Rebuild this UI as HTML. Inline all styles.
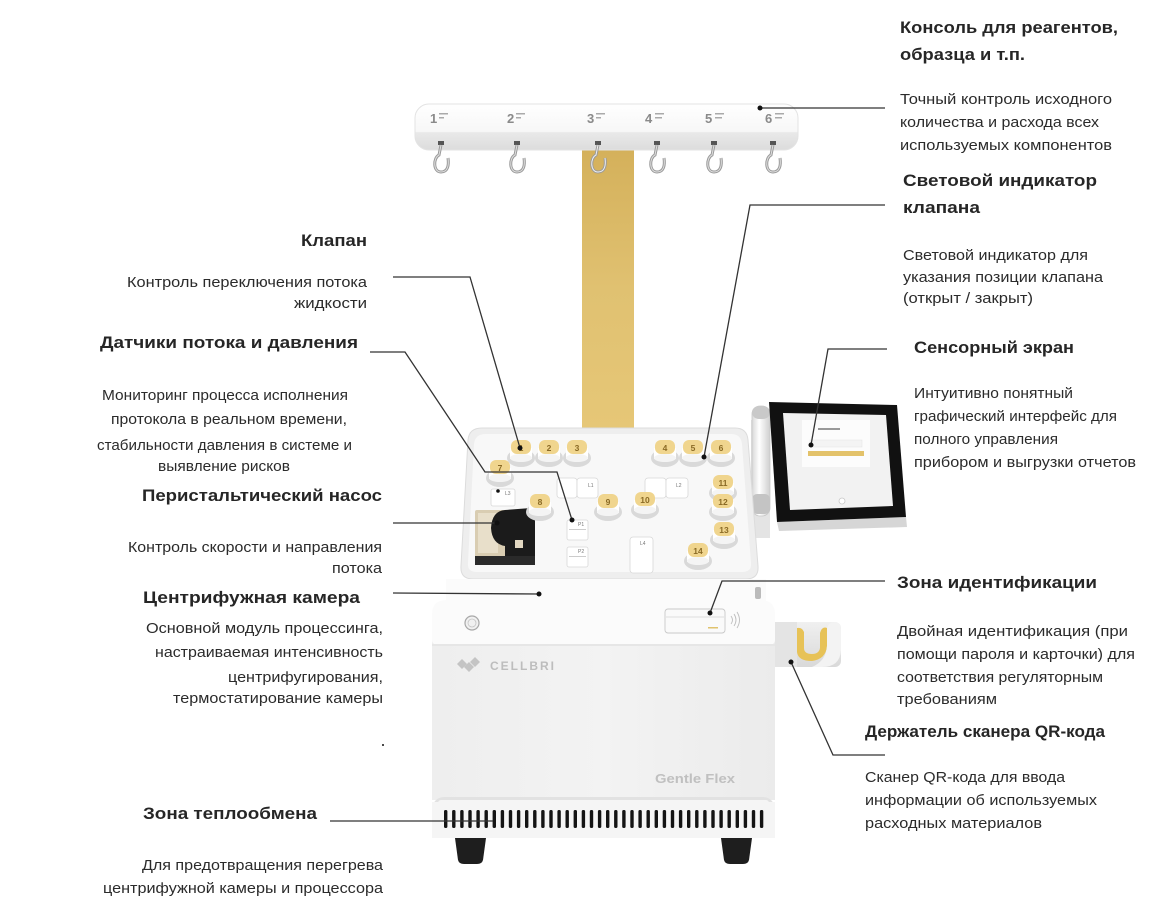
<!DOCTYPE html>
<html><head><meta charset="utf-8">
<style>
html,body{margin:0;padding:0;background:#fff;}
svg{display:block;}
.b{font-family:"Liberation Sans",sans-serif;font-weight:bold;font-size:17px;fill:#262626;}
.r{font-family:"Liberation Sans",sans-serif;font-size:14.5px;fill:#2b2b2b;}
.ln{fill:none;stroke:#333;stroke-width:1.3;}
.vn{font-family:"Liberation Sans",sans-serif;font-weight:bold;font-size:8.5px;fill:#8a6a25;text-anchor:middle;}
.lb{font-family:"Liberation Sans",sans-serif;font-size:5px;fill:#777;}
</style></head><body>
<svg width="1166" height="922" viewBox="0 0 1166 922" xmlns="http://www.w3.org/2000/svg">
<defs>
<linearGradient id="gold" x1="0" y1="0" x2="0" y2="1"><stop offset="0" stop-color="#d4b05a"/><stop offset="0.5" stop-color="#e0c171"/><stop offset="1" stop-color="#e6c777"/></linearGradient>
<linearGradient id="bar" x1="0" y1="0" x2="0" y2="1"><stop offset="0" stop-color="#ffffff"/><stop offset="0.6" stop-color="#f7f7f7"/><stop offset="0.62" stop-color="#e9e9e9"/><stop offset="1" stop-color="#dcdcdc"/></linearGradient>
<linearGradient id="cyl" x1="0" x2="1"><stop offset="0" stop-color="#d8d8d8"/><stop offset="0.4" stop-color="#ffffff"/><stop offset="1" stop-color="#cfcfcf"/></linearGradient>
<linearGradient id="body" x1="0" x2="1"><stop offset="0" stop-color="#eeeeee"/><stop offset="0.5" stop-color="#f3f3f3"/><stop offset="1" stop-color="#ebebeb"/></linearGradient>
<linearGradient id="qr" x1="0" y1="0" x2="0" y2="1"><stop offset="0" stop-color="#f0f0f0"/><stop offset="1" stop-color="#d9d9d9"/></linearGradient>
</defs>

<!-- Stalk -->
<rect x="582" y="146" width="52" height="284" fill="url(#gold)"/>

<!-- Console bar -->
<rect x="415" y="104" width="383" height="46" rx="14" fill="url(#bar)" stroke="#e3e3e3" stroke-width="1"/>
<g font-family="Liberation Sans, sans-serif" font-weight="bold" font-size="13" fill="#8a8a8a">
<text x="430" y="123">1</text><text x="507" y="123">2</text><text x="587" y="123">3</text>
<text x="645" y="123">4</text><text x="705" y="123">5</text><text x="765" y="123">6</text>
</g>
<g fill="#aaa">
<rect x="439" y="113" width="9" height="1.5"/><rect x="439" y="117" width="5" height="1.5"/>
<rect x="516" y="113" width="9" height="1.5"/><rect x="516" y="117" width="5" height="1.5"/>
<rect x="596" y="113" width="9" height="1.5"/><rect x="596" y="117" width="5" height="1.5"/>
<rect x="655" y="113" width="9" height="1.5"/><rect x="655" y="117" width="7" height="1.5"/>
<rect x="715" y="113" width="9" height="1.5"/><rect x="715" y="117" width="7" height="1.5"/>
<rect x="775" y="113" width="9" height="1.5"/><rect x="775" y="117" width="7" height="1.5"/>
</g>
<!-- Hooks -->
<g>
<g transform="translate(441,0)"><rect x="-3" y="141" width="6" height="4" fill="#555"/><path d="M0,145 L-2,155 C-8,158 -8,172 0,172 C7,172 8,165 7,158" fill="none" stroke="#9a9a9a" stroke-width="3"/><path d="M0,145 L-2,155 C-8,158 -8,172 0,172 C7,172 8,165 7,158" fill="none" stroke="#dedede" stroke-width="1"/></g>
<g transform="translate(517,0)"><rect x="-3" y="141" width="6" height="4" fill="#555"/><path d="M0,145 L-2,155 C-8,158 -8,172 0,172 C7,172 8,165 7,158" fill="none" stroke="#9a9a9a" stroke-width="3"/><path d="M0,145 L-2,155 C-8,158 -8,172 0,172 C7,172 8,165 7,158" fill="none" stroke="#dedede" stroke-width="1"/></g>
<g transform="translate(598,0)"><rect x="-3" y="141" width="6" height="4" fill="#555"/><path d="M0,145 L-2,155 C-8,158 -8,172 0,172 C7,172 8,165 7,158" fill="none" stroke="#9a9a9a" stroke-width="3"/><path d="M0,145 L-2,155 C-8,158 -8,172 0,172 C7,172 8,165 7,158" fill="none" stroke="#f0f0f0" stroke-width="1"/></g>
<g transform="translate(657,0)"><rect x="-3" y="141" width="6" height="4" fill="#555"/><path d="M0,145 L-2,155 C-8,158 -8,172 0,172 C7,172 8,165 7,158" fill="none" stroke="#9a9a9a" stroke-width="3"/><path d="M0,145 L-2,155 C-8,158 -8,172 0,172 C7,172 8,165 7,158" fill="none" stroke="#dedede" stroke-width="1"/></g>
<g transform="translate(714,0)"><rect x="-3" y="141" width="6" height="4" fill="#555"/><path d="M0,145 L-2,155 C-8,158 -8,172 0,172 C7,172 8,165 7,158" fill="none" stroke="#9a9a9a" stroke-width="3"/><path d="M0,145 L-2,155 C-8,158 -8,172 0,172 C7,172 8,165 7,158" fill="none" stroke="#dedede" stroke-width="1"/></g>
<g transform="translate(773,0)"><rect x="-3" y="141" width="6" height="4" fill="#555"/><path d="M0,145 L-2,155 C-8,158 -8,172 0,172 C7,172 8,165 7,158" fill="none" stroke="#9a9a9a" stroke-width="3"/><path d="M0,145 L-2,155 C-8,158 -8,172 0,172 C7,172 8,165 7,158" fill="none" stroke="#dedede" stroke-width="1"/></g>
</g>

<!-- Screen stand cylinder -->
<rect x="751" y="420" width="19" height="118" fill="#e4e4e4"/>
<rect x="752" y="406" width="18" height="110" rx="8" fill="url(#cyl)" stroke="#c8c8c8" stroke-width="0.8"/>
<rect x="752" y="406" width="18" height="13" rx="7" fill="#c9c9c9"/>
<rect x="752" y="494" width="18" height="20" rx="5" fill="#c4c4c4"/>

<!-- Tablet -->
<polygon points="777,522 906,517 907,527 779,531" fill="#d6d6d6"/>
<polygon points="769,402 897,405 906,517 777,522" fill="#111"/>
<polygon points="783,413 886,415 893,506 790,510" fill="#f2f2f2"/>
<rect x="802" y="420" width="68" height="47" fill="#fcfcfc"/>
<rect x="818" y="428" width="22" height="2" fill="#999"/>
<rect x="810" y="440" width="52" height="7" fill="#f4f4f4" stroke="#e2e2e2" stroke-width="0.5"/>
<rect x="808" y="451" width="56" height="5" fill="#e3c26a"/>
<circle cx="842" cy="501" r="3" fill="#fff" stroke="#c8c8c8" stroke-width="0.8"/>

<!-- Tray -->
<path d="M482,428 L735,428 Q747,428 748,440 L758,566 Q759,579 746,579 L473,579 Q460,579 461,566 L468,440 Q469,428 482,428 Z" fill="#eeeeee" stroke="#dcdcdc" stroke-width="1"/>
<path d="M486,434 L731,434 Q741,434 742,444 L751,563 Q752,572 742,572 L477,572 Q467,572 468,563 L474,444 Q475,434 486,434 Z" fill="#f8f8f8"/>

<!-- L blocks -->
<g fill="#ffffff" stroke="#d8d8d8" stroke-width="0.8">
<rect x="557" y="478" width="20" height="20" rx="3"/><rect x="577" y="478" width="21" height="20" rx="3"/>
<rect x="645" y="478" width="21" height="20" rx="3"/><rect x="666" y="478" width="22" height="20" rx="3"/>
<rect x="491" y="489" width="24" height="17" rx="2"/>
<rect x="630" y="537" width="23" height="36" rx="3"/>
<rect x="567" y="520" width="21" height="20" rx="2"/>
<rect x="567" y="547" width="21" height="20" rx="2"/>
</g>
<g class="lb"><text x="588" y="487">L1</text><text x="676" y="487">L2</text><text x="505" y="495">L3</text><text x="640" y="545">L4</text><text x="578" y="526">P1</text><text x="578" y="553">P2</text></g>
<g fill="#ccc"><rect x="569" y="529" width="17" height="1"/><rect x="569" y="556" width="17" height="1"/></g>

<!-- Pump -->
<rect x="475" y="510" width="60" height="55" rx="2" fill="#d9cdb2"/>
<rect x="478" y="513" width="20" height="40" fill="#e8dfca"/>
<rect x="475" y="556" width="60" height="9" fill="#2a2a2a"/>
<path d="M505,510 L531,508 Q535,508 535,512 L535,556 L505,556 L505,546 Q492,544 491,528 Q492,511 505,510 Z" fill="#1b1b1b"/>
<rect x="515" y="540" width="8" height="8" fill="#e2d8c2"/>

<!-- Valves -->
<g id="valves">
</g>
<g>
<!-- generic valve: base ellipse, body, cap -->
<g transform="translate(521,448)"><ellipse cx="0" cy="10" rx="14" ry="9" fill="#d9d9d9"/><rect x="-11" y="0" width="22" height="11" fill="#fff"/><ellipse cx="0" cy="10" rx="11" ry="4" fill="#f4f4f4"/><rect x="-10" y="-8" width="20" height="14" rx="6" fill="#f0d58e"/><text class="vn" y="3">1</text></g>
<g transform="translate(549,448)"><ellipse cx="0" cy="10" rx="14" ry="9" fill="#d9d9d9"/><rect x="-11" y="0" width="22" height="11" fill="#fff"/><ellipse cx="0" cy="10" rx="11" ry="4" fill="#f4f4f4"/><rect x="-10" y="-8" width="20" height="14" rx="6" fill="#f0d58e"/><text class="vn" y="3">2</text></g>
<g transform="translate(577,448)"><ellipse cx="0" cy="10" rx="14" ry="9" fill="#d9d9d9"/><rect x="-11" y="0" width="22" height="11" fill="#fff"/><ellipse cx="0" cy="10" rx="11" ry="4" fill="#f4f4f4"/><rect x="-10" y="-8" width="20" height="14" rx="6" fill="#f0d58e"/><text class="vn" y="3">3</text></g>
<g transform="translate(665,448)"><ellipse cx="0" cy="10" rx="14" ry="9" fill="#d9d9d9"/><rect x="-11" y="0" width="22" height="11" fill="#fff"/><ellipse cx="0" cy="10" rx="11" ry="4" fill="#f4f4f4"/><rect x="-10" y="-8" width="20" height="14" rx="6" fill="#f0d58e"/><text class="vn" y="3">4</text></g>
<g transform="translate(693,448)"><ellipse cx="0" cy="10" rx="14" ry="9" fill="#d9d9d9"/><rect x="-11" y="0" width="22" height="11" fill="#fff"/><ellipse cx="0" cy="10" rx="11" ry="4" fill="#f4f4f4"/><rect x="-10" y="-8" width="20" height="14" rx="6" fill="#f0d58e"/><text class="vn" y="3">5</text></g>
<g transform="translate(721,448)"><ellipse cx="0" cy="10" rx="14" ry="9" fill="#d9d9d9"/><rect x="-11" y="0" width="22" height="11" fill="#fff"/><ellipse cx="0" cy="10" rx="11" ry="4" fill="#f4f4f4"/><rect x="-10" y="-8" width="20" height="14" rx="6" fill="#f0d58e"/><text class="vn" y="3">6</text></g>
<g transform="translate(500,468)"><ellipse cx="0" cy="10" rx="14" ry="9" fill="#d9d9d9"/><rect x="-11" y="0" width="22" height="11" fill="#fff"/><ellipse cx="0" cy="10" rx="11" ry="4" fill="#f4f4f4"/><rect x="-10" y="-8" width="20" height="14" rx="6" fill="#f0d58e"/><text class="vn" y="3">7</text></g>
<g transform="translate(540,502)"><ellipse cx="0" cy="10" rx="14" ry="9" fill="#d9d9d9"/><rect x="-11" y="0" width="22" height="11" fill="#fff"/><ellipse cx="0" cy="10" rx="11" ry="4" fill="#f4f4f4"/><rect x="-10" y="-8" width="20" height="14" rx="6" fill="#f0d58e"/><text class="vn" y="3">8</text></g>
<g transform="translate(608,502)"><ellipse cx="0" cy="10" rx="14" ry="9" fill="#d9d9d9"/><rect x="-11" y="0" width="22" height="11" fill="#fff"/><ellipse cx="0" cy="10" rx="11" ry="4" fill="#f4f4f4"/><rect x="-10" y="-8" width="20" height="14" rx="6" fill="#f0d58e"/><text class="vn" y="3">9</text></g>
<g transform="translate(645,500)"><ellipse cx="0" cy="10" rx="14" ry="9" fill="#d9d9d9"/><rect x="-11" y="0" width="22" height="11" fill="#fff"/><ellipse cx="0" cy="10" rx="11" ry="4" fill="#f4f4f4"/><rect x="-10" y="-8" width="20" height="14" rx="6" fill="#f0d58e"/><text class="vn" y="3">10</text></g>
<g transform="translate(723,483)"><ellipse cx="0" cy="10" rx="14" ry="9" fill="#d9d9d9"/><rect x="-11" y="0" width="22" height="11" fill="#fff"/><ellipse cx="0" cy="10" rx="11" ry="4" fill="#f4f4f4"/><rect x="-10" y="-8" width="20" height="14" rx="6" fill="#f0d58e"/><text class="vn" y="3">11</text></g>
<g transform="translate(723,502)"><ellipse cx="0" cy="10" rx="14" ry="9" fill="#d9d9d9"/><rect x="-11" y="0" width="22" height="11" fill="#fff"/><ellipse cx="0" cy="10" rx="11" ry="4" fill="#f4f4f4"/><rect x="-10" y="-8" width="20" height="14" rx="6" fill="#f0d58e"/><text class="vn" y="3">12</text></g>
<g transform="translate(724,530)"><ellipse cx="0" cy="10" rx="14" ry="9" fill="#d9d9d9"/><rect x="-11" y="0" width="22" height="11" fill="#fff"/><ellipse cx="0" cy="10" rx="11" ry="4" fill="#f4f4f4"/><rect x="-10" y="-8" width="20" height="14" rx="6" fill="#f0d58e"/><text class="vn" y="3">13</text></g>
<g transform="translate(698,551)"><ellipse cx="0" cy="10" rx="14" ry="9" fill="#d9d9d9"/><rect x="-11" y="0" width="22" height="11" fill="#fff"/><ellipse cx="0" cy="10" rx="11" ry="4" fill="#f4f4f4"/><rect x="-10" y="-8" width="20" height="14" rx="6" fill="#f0d58e"/><text class="vn" y="3">14</text></g>
</g>
<circle cx="498" cy="491" r="1.8" fill="#111"/>

<!-- Lid area under tray -->
<rect x="446" y="579" width="320" height="24" fill="#fbfbfb"/>
<rect x="755" y="587" width="6" height="12" rx="2" fill="#bbb"/>

<!-- Lower body -->
<rect x="432" y="640" width="343" height="160" fill="url(#body)"/>
<path d="M432,614 Q432,600 447,600 L760,600 Q775,600 775,614 L775,640 Q775,645 768,645 L439,645 Q432,645 432,640 Z" fill="#fbfbfb"/>
<rect x="432" y="644" width="343" height="2" fill="#e6e6e6"/>
<circle cx="472" cy="623" r="7" fill="#f1f1f1" stroke="#a8a8a8" stroke-width="1.2"/>
<circle cx="472" cy="623" r="4" fill="none" stroke="#c4c4c4" stroke-width="0.8"/>
<rect x="665" y="609" width="60" height="24" rx="3" fill="#fafafa" stroke="#c9c9c9" stroke-width="0.9"/>
<line x1="666" y1="617" x2="724" y2="617" stroke="#d5d5d5" stroke-width="0.8"/>
<rect x="708" y="627" width="10" height="1.5" fill="#e0c36e"/>
<path d="M731,616 Q734,620 731,624 M734,614 Q738,620 734,626 M737,612 Q742,620 737,628" fill="none" stroke="#bdbdbd" stroke-width="0.9"/>
<!-- Logo -->
<g fill="#c4c4c4"><polygon points="457,664 462,659 467,664 462,669"/><polygon points="464,667 469,662 474,667 469,672"/><polygon points="470,662 475,657 480,662 475,667"/></g>
<text x="490" y="670" font-family="Liberation Sans, sans-serif" font-weight="bold" font-size="12" fill="#bdbdbd" letter-spacing="2">CELLBRI</text>
<text x="655" y="783" font-family="Liberation Sans, sans-serif" font-weight="bold" font-size="13" fill="#c0c0c0" textLength="80" lengthAdjust="spacingAndGlyphs">Gentle Flex</text>
<!-- Vent section -->
<rect x="432" y="797" width="343" height="41" rx="12" fill="#e2e2e2"/>
<rect x="432" y="802" width="343" height="36" fill="#f5f5f5"/>
<rect x="438" y="800" width="331" height="6" rx="3" fill="#f5f5f5"/>
<g fill="#141414">
<rect x="444" y="810" width="3.4" height="18" rx="1.5"/><rect x="452.1" y="810" width="3.4" height="18" rx="1.5"/><rect x="460.2" y="810" width="3.4" height="18" rx="1.5"/><rect x="468.3" y="810" width="3.4" height="18" rx="1.5"/><rect x="476.4" y="810" width="3.4" height="18" rx="1.5"/><rect x="484.5" y="810" width="3.4" height="18" rx="1.5"/><rect x="492.6" y="810" width="3.4" height="18" rx="1.5"/><rect x="500.7" y="810" width="3.4" height="18" rx="1.5"/><rect x="508.8" y="810" width="3.4" height="18" rx="1.5"/><rect x="516.9" y="810" width="3.4" height="18" rx="1.5"/>
<rect x="525" y="810" width="3.4" height="18" rx="1.5"/><rect x="533.1" y="810" width="3.4" height="18" rx="1.5"/><rect x="541.2" y="810" width="3.4" height="18" rx="1.5"/><rect x="549.3" y="810" width="3.4" height="18" rx="1.5"/><rect x="557.4" y="810" width="3.4" height="18" rx="1.5"/><rect x="565.5" y="810" width="3.4" height="18" rx="1.5"/><rect x="573.6" y="810" width="3.4" height="18" rx="1.5"/><rect x="581.7" y="810" width="3.4" height="18" rx="1.5"/><rect x="589.8" y="810" width="3.4" height="18" rx="1.5"/><rect x="597.9" y="810" width="3.4" height="18" rx="1.5"/>
<rect x="606" y="810" width="3.4" height="18" rx="1.5"/><rect x="614.1" y="810" width="3.4" height="18" rx="1.5"/><rect x="622.2" y="810" width="3.4" height="18" rx="1.5"/><rect x="630.3" y="810" width="3.4" height="18" rx="1.5"/><rect x="638.4" y="810" width="3.4" height="18" rx="1.5"/><rect x="646.5" y="810" width="3.4" height="18" rx="1.5"/><rect x="654.6" y="810" width="3.4" height="18" rx="1.5"/><rect x="662.7" y="810" width="3.4" height="18" rx="1.5"/><rect x="670.8" y="810" width="3.4" height="18" rx="1.5"/><rect x="678.9" y="810" width="3.4" height="18" rx="1.5"/>
<rect x="687" y="810" width="3.4" height="18" rx="1.5"/><rect x="695.1" y="810" width="3.4" height="18" rx="1.5"/><rect x="703.2" y="810" width="3.4" height="18" rx="1.5"/><rect x="711.3" y="810" width="3.4" height="18" rx="1.5"/><rect x="719.4" y="810" width="3.4" height="18" rx="1.5"/><rect x="727.5" y="810" width="3.4" height="18" rx="1.5"/><rect x="735.6" y="810" width="3.4" height="18" rx="1.5"/><rect x="743.7" y="810" width="3.4" height="18" rx="1.5"/><rect x="751.8" y="810" width="3.4" height="18" rx="1.5"/><rect x="759.9" y="810" width="3.4" height="18" rx="1.5"/>
</g>
<!-- Feet -->
<path d="M455,838 L486,838 L483,860 Q482,864 477,864 L464,864 Q459,864 458,860 Z" fill="#1e1e1e"/>
<path d="M721,838 L752,838 L749,860 Q748,864 743,864 L730,864 Q725,864 724,860 Z" fill="#1e1e1e"/>

<!-- QR holder -->
<rect x="775" y="622" width="66" height="45" rx="6" fill="url(#qr)"/>
<rect x="775" y="622" width="22" height="45" fill="#e4e4e4"/>
<path d="M797,628 L797,652 Q798,661 812,661 Q826,659 827,646 L827,628 Q822,626 820,633 L820,648 Q819,654 812,654 Q804,654 804,648 L804,632 Q802,627 797,628 Z" fill="#e7c257"/>
<path d="M827,628 Q829,622 835,622 Q841,623 841,630 L841,650 Q840,667 822,667 L812,667 Q826,661 827,646 Z" fill="#f3f3f3"/>

<!-- Leader lines -->
<g class="ln">
<polyline points="760,108 885,108"/>
<polyline points="393,277 470,277 520,448"/>
<polyline points="370,352 405,352 485,472 557,472 572,520"/>
<polyline points="885,205 750,205 704,457"/>
<polyline points="887,349 828,349 811,445"/>
<polyline points="393,523 497,523"/>
<polyline points="393,593 539,594"/>
<polyline points="885,581 722,581 710,613"/>
<polyline points="885,755 833,755 791,662"/>
<polyline points="330,821 493,821"/>
</g>
<g fill="#111">
<circle cx="760" cy="108" r="2.5"/><circle cx="520" cy="448" r="2.5"/><circle cx="572" cy="520" r="2.5"/>
<circle cx="704" cy="457" r="2.5"/><circle cx="811" cy="445" r="2.5"/><circle cx="497" cy="523" r="2.5"/>
<circle cx="539" cy="594" r="2.5"/><circle cx="710" cy="613" r="2.5"/><circle cx="791" cy="662" r="2.5"/>
<circle cx="383" cy="745" r="1"/>
</g>

<!-- Right column text -->
<text class="b" x="900" y="33" textLength="218" lengthAdjust="spacingAndGlyphs">Консоль для реагентов,</text>
<text class="b" x="900" y="60" textLength="125" lengthAdjust="spacingAndGlyphs">образца и т.п.</text>
<text class="r" x="900" y="104" textLength="212" lengthAdjust="spacingAndGlyphs">Точный контроль исходного</text>
<text class="r" x="900" y="127" textLength="199" lengthAdjust="spacingAndGlyphs">количества и расхода всех</text>
<text class="r" x="900" y="150" textLength="212" lengthAdjust="spacingAndGlyphs">используемых компонентов</text>
<text class="b" x="903" y="186" textLength="194" lengthAdjust="spacingAndGlyphs">Световой индикатор</text>
<text class="b" x="903" y="213" textLength="77" lengthAdjust="spacingAndGlyphs">клапана</text>
<text class="r" x="903" y="260" textLength="185" lengthAdjust="spacingAndGlyphs">Световой индикатор для</text>
<text class="r" x="903" y="282" textLength="200" lengthAdjust="spacingAndGlyphs">указания позиции клапана</text>
<text class="r" x="903" y="303" textLength="130" lengthAdjust="spacingAndGlyphs">(открыт / закрыт)</text>

<text class="b" x="914" y="353" textLength="160" lengthAdjust="spacingAndGlyphs">Сенсорный экран</text>
<text class="r" x="914" y="398" textLength="159" lengthAdjust="spacingAndGlyphs">Интуитивно понятный</text>
<text class="r" x="914" y="421" textLength="203" lengthAdjust="spacingAndGlyphs">графический интерфейс для</text>
<text class="r" x="914" y="444" textLength="144" lengthAdjust="spacingAndGlyphs">полного управления</text>
<text class="r" x="914" y="467" textLength="222" lengthAdjust="spacingAndGlyphs">прибором и выгрузки отчетов</text>

<text class="b" x="897" y="588" textLength="200" lengthAdjust="spacingAndGlyphs">Зона идентификации</text>
<text class="r" x="897" y="636" textLength="231" lengthAdjust="spacingAndGlyphs">Двойная идентификация (при</text>
<text class="r" x="897" y="659" textLength="238" lengthAdjust="spacingAndGlyphs">помощи пароля и карточки) для</text>
<text class="r" x="897" y="682" textLength="206" lengthAdjust="spacingAndGlyphs">соответствия регуляторным</text>
<text class="r" x="897" y="704" textLength="100" lengthAdjust="spacingAndGlyphs">требованиям</text>
<text class="b" x="865" y="737" textLength="240" lengthAdjust="spacingAndGlyphs">Держатель сканера QR-кода</text>
<text class="r" x="865" y="782" textLength="200" lengthAdjust="spacingAndGlyphs">Сканер QR-кода для ввода</text>
<text class="r" x="865" y="805" textLength="232" lengthAdjust="spacingAndGlyphs">информации об используемых</text>
<text class="r" x="865" y="828" textLength="177" lengthAdjust="spacingAndGlyphs">расходных материалов</text>

<!-- Left column text -->
<text class="b" x="301" y="246" textLength="66" lengthAdjust="spacingAndGlyphs">Клапан</text>
<text class="r" x="127" y="287" textLength="240" lengthAdjust="spacingAndGlyphs">Контроль переключения потока</text>
<text class="r" x="294" y="308" textLength="73" lengthAdjust="spacingAndGlyphs">жидкости</text>
<text class="b" x="100" y="348" textLength="258" lengthAdjust="spacingAndGlyphs">Датчики потока и давления</text>
<text class="r" x="102" y="400" textLength="246" lengthAdjust="spacingAndGlyphs">Мониторинг процесса исполнения</text>
<text class="r" x="111" y="424" textLength="236" lengthAdjust="spacingAndGlyphs">протокола в реальном времени,</text>
<text class="r" x="97" y="450" textLength="255" lengthAdjust="spacingAndGlyphs">стабильности давления в системе и</text>
<text class="r" x="158" y="471" textLength="132" lengthAdjust="spacingAndGlyphs">выявление рисков</text>
<text class="b" x="142" y="501" textLength="240" lengthAdjust="spacingAndGlyphs">Перистальтический насос</text>
<text class="r" x="128" y="552" textLength="254" lengthAdjust="spacingAndGlyphs">Контроль скорости и направления</text>
<text class="r" x="332" y="573" textLength="50" lengthAdjust="spacingAndGlyphs">потока</text>
<text class="b" x="143" y="603" textLength="217" lengthAdjust="spacingAndGlyphs">Центрифужная камера</text>
<text class="r" x="146" y="633" textLength="237" lengthAdjust="spacingAndGlyphs">Основной модуль процессинга,</text>
<text class="r" x="155" y="657" textLength="228" lengthAdjust="spacingAndGlyphs">настраиваемая интенсивность</text>
<text class="r" x="228" y="682" textLength="155" lengthAdjust="spacingAndGlyphs">центрифугирования,</text>
<text class="r" x="173" y="703" textLength="210" lengthAdjust="spacingAndGlyphs">термостатирование камеры</text>
<text class="b" x="143" y="819" textLength="174" lengthAdjust="spacingAndGlyphs">Зона теплообмена</text>
<text class="r" x="142" y="870" textLength="241" lengthAdjust="spacingAndGlyphs">Для предотвращения перегрева</text>
<text class="r" x="103" y="893" textLength="280" lengthAdjust="spacingAndGlyphs">центрифужной камеры и процессора</text>
</svg>
</body></html>
